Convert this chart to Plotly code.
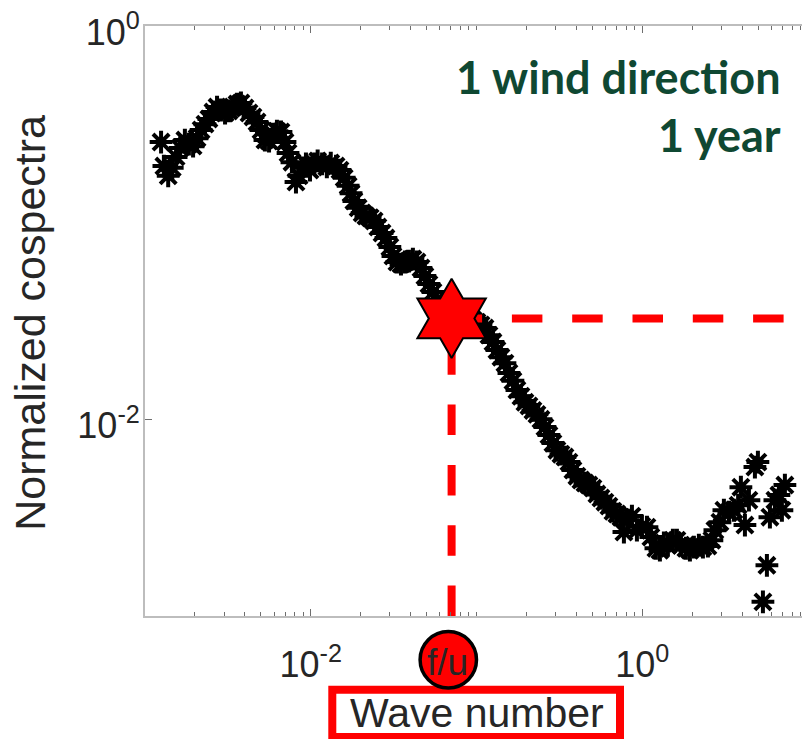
import math
import plotly.graph_objects as go

# Wave number (x) and normalized cospectrum (y) samples
wave_number = [
    0.00125, 0.00130, 0.00138, 0.00146, 0.00154, 0.00163, 0.00174, 0.00184, 0.00195, 0.00206,
    0.00218, 0.00230, 0.00243, 0.00257, 0.00272, 0.00287, 0.00304, 0.00321, 0.00339, 0.00359,
    0.00379, 0.00401, 0.00424, 0.00448, 0.00474, 0.00501, 0.00529, 0.00560, 0.00592, 0.00625,
    0.00661, 0.00699, 0.00729, 0.00770, 0.00814, 0.00849, 0.00885, 0.00935, 0.00989, 0.0105,
    0.0110, 0.0117, 0.0125, 0.0132, 0.0142, 0.0150, 0.0159, 0.0168, 0.0175, 0.0182,
    0.0193, 0.0204, 0.0215, 0.0228, 0.0241, 0.0254, 0.0269, 0.0284, 0.0300, 0.0313,
    0.0331, 0.0350, 0.0370, 0.0391, 0.0413, 0.0437, 0.0462, 0.0488, 0.0516, 0.0546,
    0.0577, 0.0610, 0.0645, 0.0682, 0.0721, 0.0762, 0.0805, 0.0851, 0.0900, 0.0951,
    0.1005, 0.1063, 0.1124, 0.1188, 0.1256, 0.1327, 0.1403, 0.1483, 0.1568, 0.1657,
    0.1752, 0.1852, 0.1958, 0.2070, 0.2188, 0.2313, 0.2445, 0.2585, 0.2732, 0.2888,
    0.3053, 0.3228, 0.3412, 0.3607, 0.3813, 0.4031, 0.4261, 0.4505, 0.4762, 0.5034,
    0.5321, 0.5625, 0.5947, 0.6286, 0.6645, 0.7025, 0.7426, 0.7741, 0.8185, 0.8652,
    0.9274, 0.9938, 1.066, 1.126, 1.207, 1.276, 1.349, 1.426, 1.529, 1.616,
    1.709, 1.831, 1.936, 2.046, 2.193, 2.319, 2.485, 2.627, 2.739, 2.937,
    3.104, 3.327, 3.566, 3.781, 3.930, 4.156, 4.393, 4.775, 4.977, 5.337,
    5.641, 5.881, 6.302, 6.663, 6.946, 7.241,
]
cospectra = [
    0.257, 0.194, 0.173, 0.190, 0.216, 0.240, 0.263, 0.251, 0.245, 0.269,
    0.296, 0.317, 0.337, 0.365, 0.387, 0.374, 0.361, 0.370, 0.387, 0.401,
    0.406, 0.383, 0.361, 0.345, 0.325, 0.296, 0.263, 0.260, 0.282, 0.292,
    0.289, 0.257, 0.226, 0.203, 0.161, 0.173, 0.190, 0.199, 0.185, 0.199,
    0.206, 0.199, 0.192, 0.201, 0.194, 0.185, 0.169, 0.154, 0.141, 0.129,
    0.119, 0.112, 0.108, 0.106, 0.102, 0.0950, 0.0886, 0.0835, 0.0752, 0.0676,
    0.0631, 0.0616, 0.0631, 0.0638, 0.0653, 0.0631, 0.0588, 0.0535, 0.0487, 0.0444,
    0.0404, 0.0377, 0.0355, 0.0339, 0.0327, 0.0320, 0.0316, 0.0320, 0.0312, 0.0320,
    0.0312, 0.0302, 0.0291, 0.0268, 0.0247, 0.0225, 0.0207, 0.0193, 0.0172, 0.0157,
    0.0141, 0.0131, 0.0122, 0.0117, 0.0111, 0.0106, 0.0100, 0.00913, 0.00832, 0.00757,
    0.00697, 0.00665, 0.00643, 0.00606, 0.00552, 0.00514, 0.00491, 0.00474, 0.00463, 0.00447,
    0.00417, 0.00398, 0.00379, 0.00362, 0.00341, 0.00330, 0.00318, 0.00267, 0.00307, 0.00322,
    0.00273, 0.00286, 0.00283, 0.00252, 0.00221, 0.00216, 0.00235, 0.00229, 0.00243, 0.00243,
    0.00229, 0.00221, 0.00216, 0.00224, 0.00229, 0.00224, 0.00227, 0.00243, 0.00273, 0.00300,
    0.00345, 0.00337, 0.00345, 0.00366, 0.00452, 0.00290, 0.00388, 0.00572, 0.00606, 0.00118,
    0.00181, 0.00318, 0.00388, 0.00412, 0.00345, 0.00463,
]

# Characteristic point f/u on the spectrum
fu_wave_number = 0.0707
fu_cospectrum = 0.0326

x_tick_vals = [0.01, 1]
x_tick_text = ["10<sup>-2</sup>", "10<sup>0</sup>"]
y_tick_vals = [0.01, 1]
y_tick_text = ["10<sup>-2</sup>", "10<sup>0</sup>"]
x_minor_vals = [k * 10.0 ** e for e in (-3, -2, -1, 0) for k in range(2, 10)] + [0.1]

y_min, y_max = 1e-3, 1.0
x_far = 10.0

label_font = "Liberation Sans, Arial, sans-serif"
text_gray = "#262626"
axis_gray = "#BDBDBD"
tick_gray = "#6E6E6E"
red = "#FF0000"
green = "#0F4832"

# Plot-area geometry in pixels (used for the decorations below the axis)
W, H = 802, 739
M_L, M_R, M_T, M_B = 145, 0, 26, 123
PW, PH = W - M_L - M_R, H - M_T - M_B


def px_to_paper_x(px):
    return (px - M_L) / PW


def px_to_paper_y(py):
    return (H - M_B - py) / PH


fig = go.Figure()

fig.add_trace(go.Scatter(
    x=wave_number, y=cospectra, mode="markers",
    marker=dict(symbol="asterisk-open", size=19, color="black",
                line=dict(color="black", width=4)),
    showlegend=False, hoverinfo="skip",
))

# Dashed guides from the f/u point to the axes
fig.add_trace(go.Scatter(
    x=[fu_wave_number, fu_wave_number], y=[y_min, fu_cospectrum], mode="lines",
    line=dict(color=red, width=8, dash="30.5px,29.8px"),
    showlegend=False, hoverinfo="skip",
))
fig.add_trace(go.Scatter(
    x=[fu_wave_number, x_far], y=[fu_cospectrum, fu_cospectrum], mode="lines",
    line=dict(color=red, width=8, dash="30.5px,29.8px"),
    showlegend=False, hoverinfo="skip",
))
fig.add_trace(go.Scatter(
    x=[fu_wave_number], y=[fu_cospectrum], mode="markers",
    marker=dict(symbol="hexagram", size=60, color=red,
                line=dict(color="black", width=2)),
    showlegend=False, hoverinfo="skip",
))

axis_common = dict(
    type="log", showgrid=False, zeroline=False,
    showline=True, linecolor=axis_gray, linewidth=2,
    ticks="inside", ticklen=7, tickwidth=1, tickcolor=tick_gray,
    tickfont=dict(family=label_font, size=36, color=text_gray),
)

fig.update_xaxes(
    **axis_common, range=[-3, 0.963], mirror="ticks",
    tickmode="array", tickvals=x_tick_vals, ticktext=x_tick_text,
    ticklabelstandoff=16,
    minor=dict(tickmode="array", tickvals=x_minor_vals, ticks="inside",
               ticklen=4, tickcolor=tick_gray, tickwidth=1, showgrid=False),
)
fig.update_yaxes(
    **axis_common, range=[-3, 0], mirror=False,
    tickmode="array", tickvals=y_tick_vals, ticktext=y_tick_text,
    ticklabelstandoff=-4, ticklabelshift=6,
)

fig.add_annotation(
    text="Normalized cospectra", textangle=-90,
    xref="paper", yref="paper", x=-0.175, y=0.497,
    xanchor="center", yanchor="middle", showarrow=False,
    font=dict(family=label_font, size=43, color=text_gray),
)

# Axis title inside a red frame
fig.add_shape(
    type="rect", xref="paper", yref="paper",
    x0=px_to_paper_x(332.3), x1=px_to_paper_x(620),
    y0=px_to_paper_y(737), y1=px_to_paper_y(689.7),
    line=dict(color=red, width=8), fillcolor="white", layer="above",
)
fig.add_annotation(
    text="Wave number", xref="paper", yref="paper",
    x=px_to_paper_x(476.5), y=px_to_paper_y(712.5),
    xanchor="center", yanchor="middle",
    showarrow=False, font=dict(family=label_font, size=41, color=text_gray),
)

# f/u badge under the vertical guide
badge_cx, badge_cy, badge_r = 448.3, 659.7, 28.2
fig.add_shape(
    type="circle", xref="paper", yref="paper",
    x0=px_to_paper_x(badge_cx - badge_r), x1=px_to_paper_x(badge_cx + badge_r),
    y0=px_to_paper_y(badge_cy + badge_r), y1=px_to_paper_y(badge_cy - badge_r),
    line=dict(color="black", width=3.5), fillcolor=red, layer="above",
)
fig.add_annotation(
    text="f/u", xref="paper", yref="paper",
    x=px_to_paper_x(447), y=px_to_paper_y(662),
    xanchor="center", yanchor="middle", showarrow=False,
    font=dict(family=label_font, size=37, color=text_gray),
)

for line_text, py in (("1 wind direction", 77), ("1 year", 134.7)):
    fig.add_annotation(
        text=line_text, xref="paper", yref="paper",
        x=px_to_paper_x(783), y=px_to_paper_y(py), xanchor="right", yanchor="middle",
        showarrow=False,
        font=dict(family="Lato, Open Sans, sans-serif", size=45, color=green, weight="bold"),
    )

fig.update_layout(
    width=W, height=H,
    margin=dict(l=M_L, r=M_R, t=M_T, b=M_B),
    paper_bgcolor="white", plot_bgcolor="white",
    showlegend=False,
)

fig.write_html("out.html")
